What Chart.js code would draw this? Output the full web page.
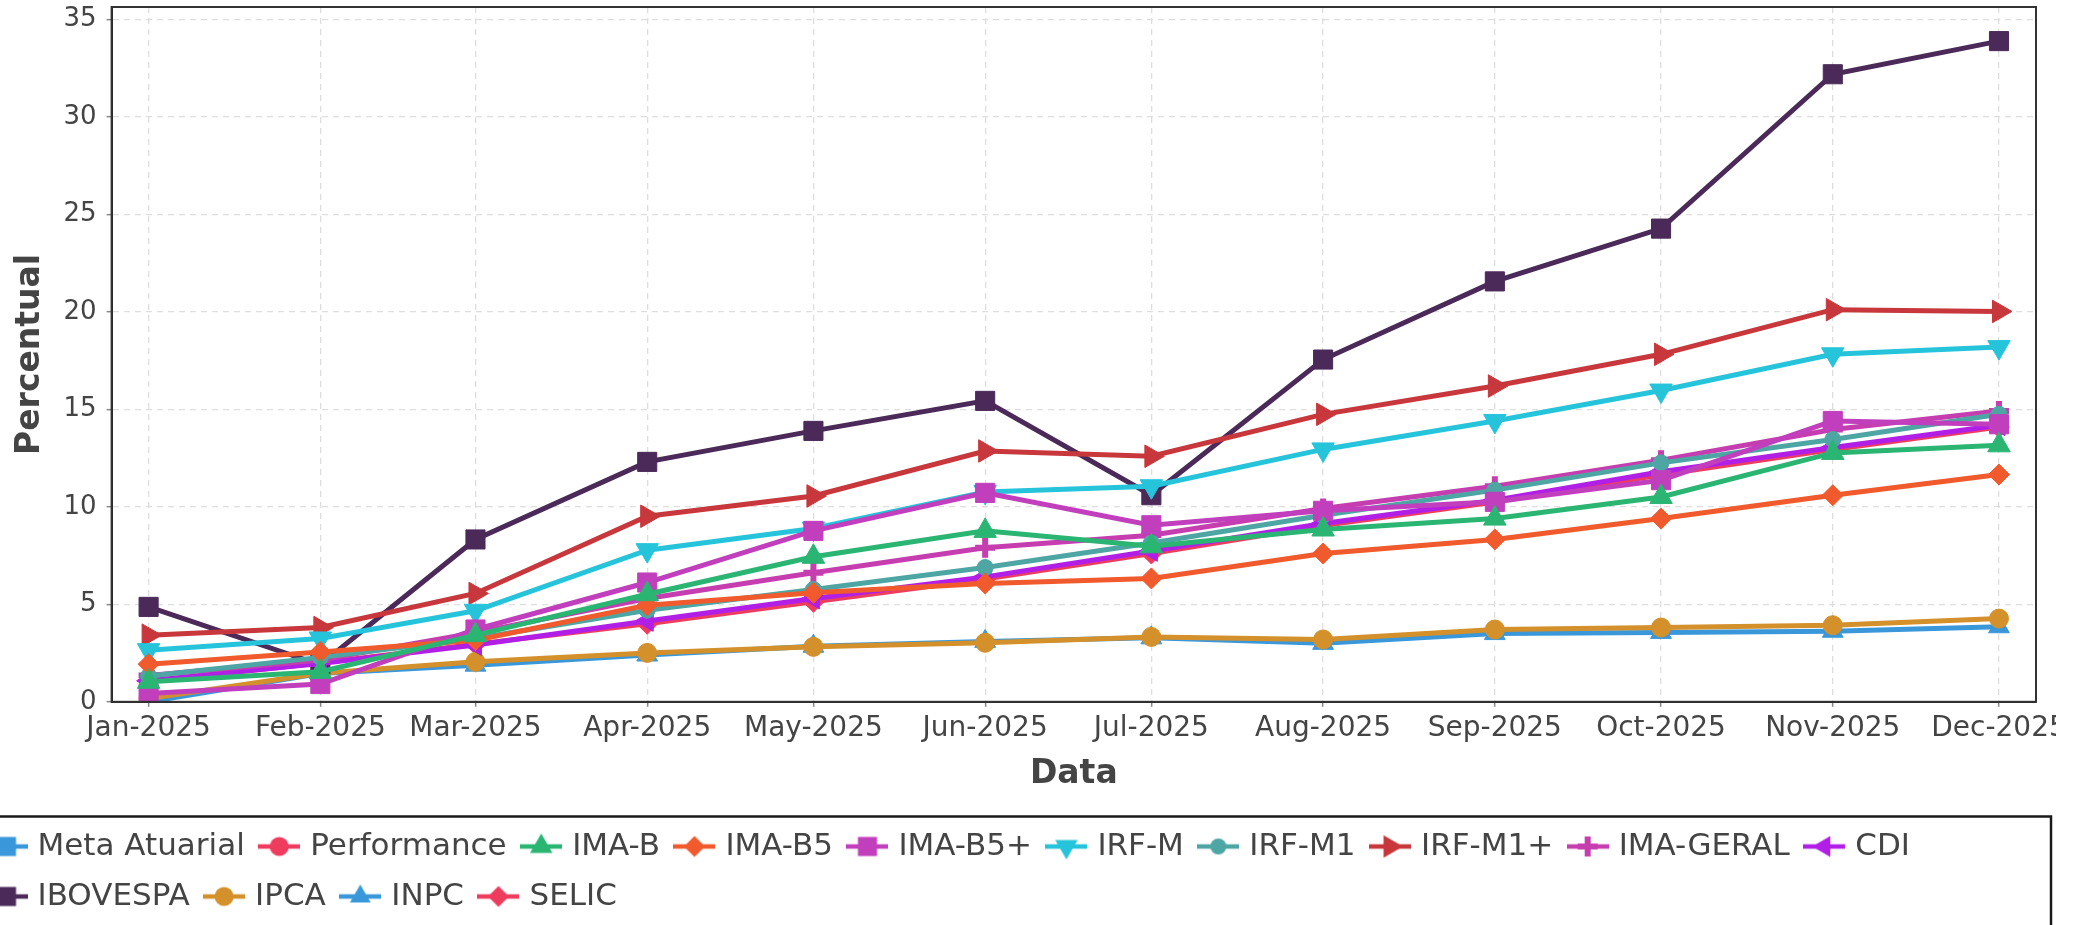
<!DOCTYPE html>
<html><head><meta charset="utf-8">
<script src="https://cdn.jsdelivr.net/npm/chart.js@4.4.1/dist/chart.umd.min.js"></script>
<style>
html,body{margin:0;padding:0;background:#fff;overflow:hidden;}
#wrap{position:relative;width:2056px;height:925px;overflow:hidden;background:#fff;}
#c{position:absolute;left:-28px;top:0;}
</style></head><body>
<div id="wrap"><canvas id="c" width="2111" height="925"></canvas></div>
<script>
// ---- data ----
const dates = ['2025-01-01','2025-02-01','2025-03-01','2025-04-01','2025-05-01','2025-06-01','2025-07-01','2025-08-01','2025-09-01','2025-10-01','2025-11-01','2025-12-01'];
const tickLabels = ['Jan-2025','Feb-2025','Mar-2025','Apr-2025','May-2025','Jun-2025','Jul-2025','Aug-2025','Sep-2025','Oct-2025','Nov-2025','Dec-2025'];
const yTicks = [0,5,10,15,20,25,30,35];
const seriesNames = ['Meta Atuarial','Performance','IMA-B','IMA-B5','IMA-B5+','IRF-M','IRF-M1','IRF-M1+','IMA-GERAL','CDI','IBOVESPA','IPCA','INPC','SELIC'];
// series not drawn in the reference plot (legend entries only)
const metaAtuarial = [null,null,null,null,null,null,null,null,null,null,null,null];
const performance  = [null,null,null,null,null,null,null,null,null,null,null,null];
const imaB      = [1.03,1.54,3.42,5.52,7.44,8.77,7.98,8.84,9.40,10.51,12.77,13.16];
const imaB5     = [1.93,2.56,3.16,4.96,5.59,6.07,6.33,7.61,8.33,9.40,10.60,11.66];
const imaB5plus = [0.43,0.91,3.71,6.12,8.77,10.72,9.06,9.80,10.26,11.37,14.41,14.24];
const irfM      = [2.65,3.25,4.67,7.78,8.89,10.77,11.06,12.95,14.41,15.97,17.83,18.20];
const irfM1     = [1.32,2.28,3.25,4.70,5.76,6.89,8.15,9.57,10.86,12.26,13.46,14.75];
const irfM1plus = [3.42,3.81,5.56,9.52,10.56,12.87,12.60,14.75,16.20,17.83,20.12,20.03];
const imaGeral  = [1.35,2.15,3.55,5.30,6.62,7.90,8.55,9.92,11.06,12.40,13.97,14.92];
const cdi       = [1.08,1.97,2.91,4.15,5.30,6.41,7.74,9.15,10.34,11.80,13.05,14.19];
const ibovespa  = [4.87,1.90,8.33,12.31,13.90,15.44,10.60,17.56,21.57,24.28,32.20,33.90];
const ipca      = [0.17,1.46,2.05,2.51,2.82,3.03,3.33,3.20,3.71,3.81,3.93,4.27];
const inpc      = [0.00,1.45,1.88,2.40,2.85,3.10,3.28,3.00,3.50,3.56,3.62,3.85];
const selic     = [1.05,1.99,2.96,4.00,5.13,6.30,7.61,9.05,10.25,11.65,12.95,14.10];

const seriesValues = [metaAtuarial,performance,imaB,imaB5,imaB5plus,irfM,irfM1,irfM1plus,imaGeral,cdi,ibovespa,ipca,inpc,selic];

// ---- styles ----
const styles = [
  {color:'#3A98DA', shape:'rect', r:13.5, rot:0},
  {color:'#EE3C5F', shape:'circle', r:9.5, rot:0},
  {color:'#2AB573', shape:'triangle', r:13, rot:0},
  {color:'#F05A2C', shape:'rectRot', r:10.5, rot:0},
  {color:'#C13FBD', shape:'rect', r:13.5, rot:0},
  {color:'#26C4DA', shape:'triangle', r:13, rot:180},
  {color:'#4DA6A3', shape:'circle', r:8, rot:0},
  {color:'#C8373B', shape:'triangle', r:13, rot:90},
  {color:'#C63DB0', shape:'cross', r:10, rot:0, bw:6},
  {color:'#B11FE7', shape:'triangle', r:12, rot:270},
  {color:'#4B2A59', shape:'rect', r:13.5, rot:0},
  {color:'#D4902B', shape:'circle', r:9.5, rot:0},
  {color:'#3A98DA', shape:'triangle', r:12, rot:0},
  {color:'#EE3C5F', shape:'rectRot', r:10.5, rot:0}
];

const DAY = 86400000;
const t0 = Date.parse(dates[0] + 'T00:00:00Z');
const xVals = dates.map(d => Math.round((Date.parse(d + 'T00:00:00Z') - t0) / DAY));
const span = xVals[xVals.length-1] - xVals[0];
const xPad = span * 0.02;
const SHIFT = 28; // canvas extends this far left of the visible page

function drawShape(g, s, x, y) {
  const r = s.r, rad = (s.rot||0) * Math.PI / 180;
  g.save();
  g.fillStyle = s.color; g.strokeStyle = s.color;
  g.beginPath();
  if (s.shape === 'circle') { g.arc(x, y, r, 0, Math.PI*2); g.fill(); }
  else if (s.shape === 'rect') { const h = r*Math.SQRT1_2; g.rect(x-h, y-h, 2*h, 2*h); g.fill(); }
  else if (s.shape === 'rectRot') { g.moveTo(x-r,y); g.lineTo(x,y-r); g.lineTo(x+r,y); g.lineTo(x,y+r); g.closePath(); g.fill(); }
  else if (s.shape === 'triangle') {
    let a = rad;
    g.moveTo(x + Math.sin(a)*r, y - Math.cos(a)*r); a += 2*Math.PI/3;
    g.lineTo(x + Math.sin(a)*r, y - Math.cos(a)*r); a += 2*Math.PI/3;
    g.lineTo(x + Math.sin(a)*r, y - Math.cos(a)*r); g.closePath(); g.fill();
  } else if (s.shape === 'cross') {
    g.lineWidth = s.bw || 5;
    g.moveTo(x-r, y); g.lineTo(x+r, y); g.moveTo(x, y-r); g.lineTo(x, y+r); g.stroke();
  }
  g.restore();
}
function makeIcon(s) {
  const c = document.createElement('canvas'); c.width = 42; c.height = 28;
  const g = c.getContext('2d');
  g.strokeStyle = s.color; g.lineWidth = 4.5;
  g.beginPath(); g.moveTo(0, 14); g.lineTo(42, 14); g.stroke();
  drawShape(g, s, 21, 14);
  return c;
}
const icons = styles.map(makeIcon);

const datasets = seriesNames.map((name, i) => ({
  label: name,
  data: seriesValues[i].map((v, j) => ({x: xVals[j], y: v})),
  borderColor: styles[i].color,
  backgroundColor: styles[i].color,
  borderWidth: 5,
  pointStyle: styles[i].shape,
  pointRotation: styles[i].rot,
  pointRadius: styles[i].r,
  pointBorderWidth: styles[i].bw || 1,
  pointBackgroundColor: styles[i].color,
  pointBorderColor: styles[i].color,
  tension: 0,
  spanGaps: false
}));

const FONT = 'DejaVu Sans';
const frame = {
  id: 'frame',
  afterDatasetsDraw(chart) {
    const a = chart.chartArea, ctx = chart.ctx;
    ctx.save();
    ctx.strokeStyle = '#333'; ctx.lineWidth = 2;
    ctx.strokeRect(a.left, a.top, a.right - a.left, a.bottom - a.top);
    ctx.restore();
  },
  afterDraw(chart) {
    const l = chart.legend, ctx = chart.ctx;
    ctx.save();
    ctx.strokeStyle = '#1a1a1a'; ctx.lineWidth = 2.5;
    ctx.strokeRect(-10, l.top + 4.5, (2051 + SHIFT) + 10, 300);
    ctx.restore();
  }
};

new Chart(document.getElementById('c'), {
  type: 'line',
  data: { datasets },
  plugins: [frame],
  options: {
    responsive: false, animation: false, devicePixelRatio: 1,
    layout: { autoPadding: false, padding: { left: 0, right: 47, top: 7, bottom: 3 } },
    plugins: {
      tooltip: { enabled: false },
      legend: {
        position: 'bottom', align: 'start',
        labels: {
          font: { family: FONT, size: 31 }, color: '#444',
          usePointStyle: true, pointStyleWidth: 31, padding: 19,
          generateLabels(chart) {
            const items = Chart.defaults.plugins.legend.labels.generateLabels(chart);
            items.forEach(it => { it.pointStyle = icons[it.datasetIndex]; it.rotation = 0; });
            return items;
          }
        }
      }
    },
    scales: {
      x: {
        type: 'linear', min: xVals[0] - xPad, max: xVals[xVals.length-1] + xPad,
        afterBuildTicks: s => { s.ticks = xVals.map(v => ({value: v})); },
        afterFit: s => { s.height = 110.2; s.paddingLeft = 0; s.paddingRight = 0; },
        ticks: { callback: (v, i) => tickLabels[i], autoSkip: false, maxRotation: 0, minRotation: 0,
                 font: { family: FONT, size: 28 }, color: '#444', padding: 5 },
        grid: { color: '#dedede', lineWidth: 1.3, tickLength: 5, tickColor: '#888', tickWidth: 1.5 },
        border: { display: true, color: '#222', width: 2, dash: [6, 5] },
        title: { display: true, text: 'Data', font: { family: FONT, size: 33, weight: 'bold' }, color: '#444', padding: { top: 0, bottom: 18 } }
      },
      y: {
        min: 0, max: 35.65,
        afterBuildTicks: s => { s.ticks = yTicks.map(v => ({value: v})); },
        afterFit: s => { s.width = 111.6 + SHIFT; s.paddingTop = 0; s.paddingBottom = 0; },
        ticks: { font: { family: FONT, size: 26 }, color: '#444', padding: 10 },
        grid: { color: '#dedede', lineWidth: 1.3, tickLength: 5, tickColor: '#888', tickWidth: 1.5 },
        border: { display: true, color: '#222', width: 2, dash: [6, 5] },
        title: { display: true, text: 'Percentual', font: { family: FONT, size: 33, weight: 'bold' }, color: '#444', padding: { top: 39, bottom: 0 } }
      }
    }
  }
});
</script>
</body></html>
